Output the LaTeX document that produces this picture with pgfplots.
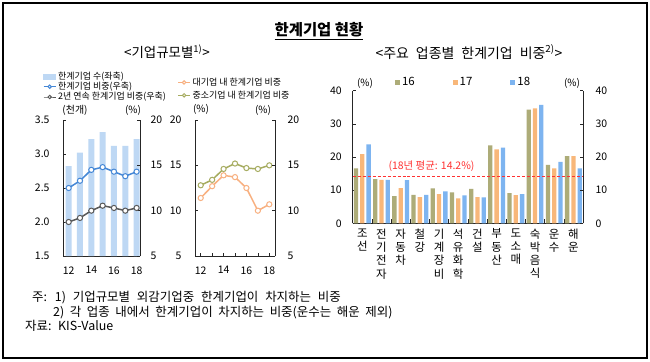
\documentclass[border=0pt]{standalone}
\usepackage{fontspec}
\setmainfont{Noto Sans CJK KR}
\usepackage{pgfplots}
\pgfplotsset{compat=1.18}
\definecolor{cbar}{RGB}{190,216,244}
\definecolor{cblue}{RGB}{68,135,214}
\definecolor{cgray}{RGB}{89,89,89}
\definecolor{corange}{RGB}{248,176,128}
\definecolor{cgreen}{RGB}{166,172,96}
\definecolor{csix}{RGB}{173,172,120}
\definecolor{cseven}{RGB}{248,183,122}
\definecolor{ceight}{RGB}{125,180,240}
\definecolor{cred}{RGB}{255,50,50}
\pgfplotsset{
  base/.style={scale only axis, anchor=south west,
    /pgf/number format/assume math mode=true,
    tick align=inside, major tick length=3bp,
    tick style={black!85, line width=0.6bp},
    axis line style={black!85, line width=0.9bp, -},
    tick label style={font=\fontsize{10.5}{12}\selectfont},
    clip=false},
  lineleg/.style={legend image code/.code={\draw[mark repeat=2,mark phase=2,##1, mark size=1.7bp, line width=1bp] plot coordinates {(0bp,0bp) (6bp,0bp) (12bp,0bp)};}},
}
\begin{document}
\begin{tikzpicture}
\path[use as bounding box] (0,0) rectangle (650bp,-362bp);
\fill[white] (0,0) rectangle (650bp,-362bp);
\draw[line width=2.5bp] (3bp,-3bp) rectangle (647bp,-358bp);
\node[font=\fontsize{15.5}{18}\selectfont\bfseries] at (319bp,-31bp) {\underline{한계기업 현황}};
\node[font=\fontsize{13.5}{16}\selectfont] at (167bp,-52bp) {<기업규모별\textsuperscript{1)}>};
\node[font=\fontsize{14}{16}\selectfont] at (469bp,-52bp) {\spaceskip=0.5em <주요 업종별 한계기업 비중\textsuperscript{2)}>};

% ---- chart 1 ----
\begin{axis}[base, at={(63bp,-256bp)}, width=77bp, height=136bp,
  xmin=11.5, xmax=18.3, ymin=1.5, ymax=3.5,
  axis x line*=bottom, axis y line*=left,
  ytick={1.5,2,2.5,3,3.5},
  yticklabel style={/pgf/number format/fixed, /pgf/number format/fixed zerofill, /pgf/number format/precision=1, xshift=-10bp},
  xtick={12,...,18}, xticklabels={12,,14,,16,,18},
  xticklabel style={yshift=-7bp}]
\addplot[ybar, bar width=6bp, fill=cbar, draw=none] coordinates {(12,2.82) (13,3.02) (14,3.22) (15,3.32) (16,3.12) (17,3.12) (18,3.22)};
\end{axis}
\begin{axis}[base, lineleg, at={(63bp,-256bp)}, width=77bp, height=136bp,
  xmin=11.5, xmax=18.3, ymin=5, ymax=20,
  axis y line*=right, axis x line=none,
  ytick={5,10,15,20}, yticklabel style={xshift=7bp},
  legend style={at={(axis description cs:-0.26,1.37)}, anchor=north west, draw=none, fill=none,
    font=\fontsize{9}{9.5}\selectfont, inner sep=0pt, row sep=-2.6bp, cells={anchor=west}},
  legend cell align=left]
\addlegendimage{legend image code/.code={\fill[cbar] (0bp,-2.5bp) rectangle (12bp,2.5bp);}}
\addlegendentry{한계기업 수(좌축)}
\addplot[cblue, line width=1.5bp, mark=*, mark size=2.6bp, mark options={fill=white, line width=1bp}] coordinates {(12,12.5) (13,13.3) (14,14.5) (15,14.8) (16,14.3) (17,13.8) (18,14.3)};
\addlegendentry{한계기업 비중(우축)}
\addplot[cgray, line width=1.5bp, mark=*, mark size=2.6bp, mark options={fill=white, line width=1bp}] coordinates {(12,8.75) (13,9.2) (14,10.0) (15,10.55) (16,10.3) (17,10.0) (18,10.3)};
\addlegendentry{2년 연속 한계기업 비중(우축)}
\end{axis}
\node[font=\fontsize{10}{12}\selectfont] at (75bp,-110bp) {(천개)};
\node[font=\fontsize{10}{12}\selectfont] at (133bp,-110bp) {(\%)};

% ---- chart 2 ----
\begin{axis}[base, lineleg, at={(195bp,-256bp)}, width=80bp, height=136bp,
  xmin=11.5, xmax=18.5, ymin=5, ymax=20,
  axis x line*=bottom, axis y line*=left,
  ytick={5,10,15,20}, yticklabel style={xshift=-10bp},
  xtick={12,...,18}, xticklabels={12,,14,,16,,18},
  xticklabel style={yshift=-7bp},
  legend style={at={(axis description cs:-0.22,1.325)}, anchor=north west, draw=none, fill=none,
    font=\fontsize{9}{9.5}\selectfont, inner sep=0pt, row sep=0bp, cells={anchor=west}},
  legend cell align=left]
\addplot[corange, line width=1.5bp, mark=*, mark size=2.6bp, mark options={fill=white, line width=1bp}] coordinates {(12,11.4) (13,12.7) (14,13.9) (15,13.7) (16,12.5) (17,10.0) (18,10.7)};
\addlegendentry{대기업 내 한계기업 비중}
\addplot[cgreen, line width=1.5bp, mark=*, mark size=2.6bp, mark options={fill=white, line width=1bp}] coordinates {(12,12.8) (13,13.4) (14,14.6) (15,15.2) (16,14.7) (17,14.6) (18,15.0)};
\addlegendentry{중소기업 내 한계기업 비중}
\end{axis}
\begin{axis}[base, at={(195bp,-256bp)}, width=80bp, height=136bp,
  xmin=11.5, xmax=18.5, ymin=5, ymax=20,
  axis y line*=right, axis x line=none,
  ytick={5,10,15,20}, yticklabel style={xshift=9bp}]
\addplot[draw=none, forget plot] coordinates {(12,5)};
\end{axis}
\node[font=\fontsize{10}{12}\selectfont] at (201bp,-109bp) {(\%)};
\node[font=\fontsize{10}{12}\selectfont] at (263bp,-110bp) {(\%)};

% ---- chart 3 ----
\begin{axis}[base, at={(352.7bp,-223.3bp)}, width=230.3bp, height=132.6bp,
  xmin=-0.5, xmax=11.5, ymin=0, ymax=40,
  axis x line*=bottom, axis y line*=left,
  ytick={0,10,20,30,40}, yticklabel style={xshift=-7.5bp},
  xtick={0,...,11},
  xticklabels={{조\\선},{전\\기\\전\\자},{자\\동\\차},{철\\강},{기\\계\\장\\비},{석\\유\\화\\학},{건\\설},{부\\동\\산},{도\\소\\매},{숙\\박\\음\\식},{운\\수},{해\\운}},
  xticklabel style={align=center, font=\fontsize{11.5}{13.3}\selectfont, anchor=north, yshift=-2bp},
  major x tick style={draw=none},
  minor xtick={0.5,1.5,...,10.5}, minor tick length=4bp,
  legend style={at={(axis description cs:0.183,1.115)}, anchor=north west, draw=none, fill=none,
    font=\fontsize{11.5}{13}\selectfont, inner sep=0pt, legend columns=3,
    /tikz/every even column/.append style={column sep=36bp}},
  ]
\addplot[ybar, bar width=4.3bp, bar shift=-6.3bp, fill=csix, draw=none,
  legend image code/.code={\fill[csix] (0bp,-2.5bp) rectangle (5bp,2.5bp);}]
  coordinates {(0,16.6) (1,13.3) (2,8.2) (3,8.6) (4,10.5) (5,9.3) (6,10.4) (7,23.5) (8,9.1) (9,34.3) (10,17.6) (11,20.3)};
\addlegendentry{16}
\addplot[ybar, bar width=4.3bp, bar shift=0bp, fill=cseven, draw=none,
  legend image code/.code={\fill[cseven] (0bp,-2.5bp) rectangle (5bp,2.5bp);}]
  coordinates {(0,20.9) (1,13.1) (2,10.6) (3,7.9) (4,8.8) (5,7.5) (6,7.9) (7,22.3) (8,8.5) (9,34.7) (10,16.6) (11,20.3)};
\addlegendentry{17}
\addplot[ybar, bar width=4.3bp, bar shift=6.3bp, fill=ceight, draw=none,
  legend image code/.code={\fill[ceight] (0bp,-2.5bp) rectangle (5bp,2.5bp);}]
  coordinates {(0,23.8) (1,13.1) (2,13.0) (3,8.6) (4,9.6) (5,8.4) (6,7.8) (7,22.8) (8,8.8) (9,35.7) (10,18.5) (11,16.6)};
\addlegendentry{18}
\addplot[cred, line width=0.8bp, densely dashed, forget plot] coordinates {(-0.5,14.2) (11.5,14.2)};
\end{axis}
\begin{axis}[base, at={(352.7bp,-223.3bp)}, width=230.3bp, height=132.6bp,
  xmin=-0.5, xmax=11.5, ymin=0, ymax=40,
  axis y line*=right, axis x line=none,
  ytick={0,10,20,30,40}, yticklabel style={xshift=9bp}]
\addplot[draw=none, forget plot] coordinates {(0,0)};
\end{axis}
\node[font=\fontsize{10}{12}\selectfont] at (365bp,-83bp) {(\%)};
\node[font=\fontsize{10}{12}\selectfont] at (572bp,-83bp) {(\%)};
\node[font=\fontsize{10.5}{12}\selectfont, text=cred] at (431.5bp,-166bp) {(18년 평균: 14.2\%)};

% ---- notes ----
\node[anchor=base west, font=\fontsize{12.5}{14}\selectfont, inner sep=0pt] at (32bp,-301bp) {\spaceskip=0.55em 주: 1) 기업규모별 외감기업중 한계기업이 차지하는 비중};
\node[anchor=base west, font=\fontsize{12.5}{14}\selectfont, inner sep=0pt] at (53bp,-316bp) {\spaceskip=0.45em 2) 각 업종 내에서 한계기업이 차지하는 비중(운수는 해운 제외)};
\node[anchor=base west, font=\fontsize{12.5}{14}\selectfont, inner sep=0pt] at (25bp,-330.5bp) {\spaceskip=0.45em 자료: KIS-Value};
\end{tikzpicture}
\end{document}
